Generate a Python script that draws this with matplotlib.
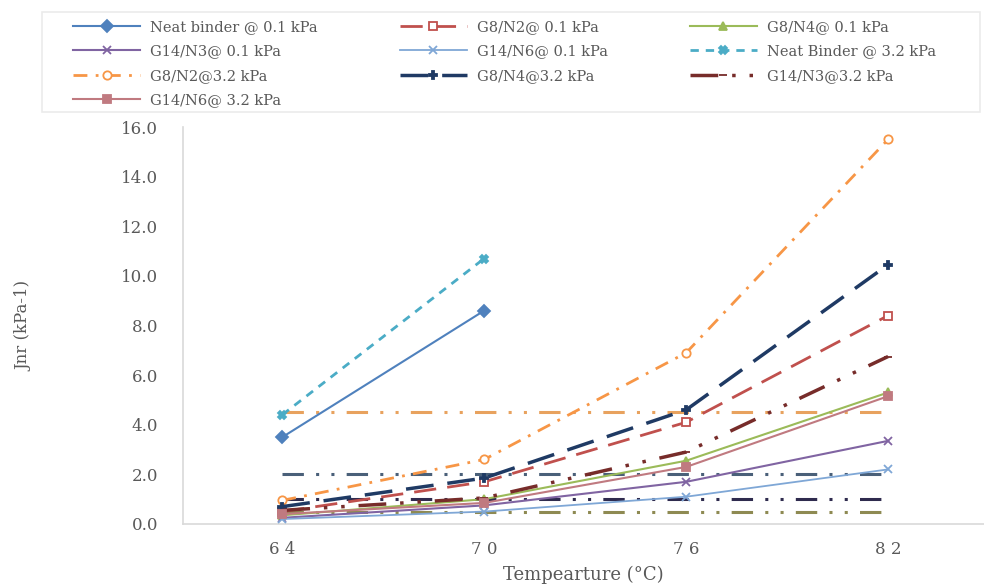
import matplotlib
matplotlib.use("Agg")
import matplotlib.pyplot as plt
from matplotlib.patches import Rectangle
import numpy as np

plt.rcParams['font.family'] = ['DejaVu Serif']

temps = [64, 70, 76, 82]
temp_labels = ['6 4', '7 0', '7 6', '8 2']

# Jnr values (kPa-1) per binder / stress level
neat_01 = [3.5, 8.6]
g8n2_01 = [0.5, 1.7, 4.1, 8.4]
g8n4_01 = [0.35, 1.0, 2.55, 5.3]
g14n3_01 = [0.25, 0.75, 1.7, 3.35]
g14n6_01 = [0.2, 0.5, 1.1, 2.2]
neat_32 = [4.4, 10.7]
g8n2_32 = [0.95, 2.6, 6.9, 15.5]
g8n4_32 = [0.7, 1.85, 4.6, 10.45]
g14n3_32 = [0.55, 1.05, 2.9, 6.75]
g14n6_32 = [0.4, 0.85, 2.3, 5.15]

# traffic-level limits drawn across the temperature range
limits = [4.5, 2.0, 1.0, 0.5]
limit_colors = ['#E8A25E', '#4A6079', '#2F2B4E', '#8E8A52']

W, H = 984, 586
fig = plt.figure(figsize=(W / 100, H / 100), dpi=100)
ax = fig.add_axes([183/W, 1 - 524/H, 1 - 183/W, (524 - 127)/H])

series = [
    (temps[:2], neat_01, 'Neat binder @ 0.1 kPa', '#4F81BD', '-', 'D', 1.5, 'full'),
    (temps, g8n2_01, 'G8/N2@ 0.1 kPa', '#C0504D', (0, (8, 4)), 's', 2.0, 'none'),
    (temps, g8n4_01, 'G8/N4@ 0.1 kPa', '#9BBB59', '-', '^', 1.5, 'full'),
    (temps, g14n3_01, 'G14/N3@ 0.1 kPa', '#8064A2', '-', 'x', 1.5, 'full'),
    (temps, g14n6_01, 'G14/N6@ 0.1 kPa', '#7FA7D6', '-', 'x', 1.3, 'full'),
    (temps[:2], neat_32, 'Neat Binder @ 3.2 kPa', '#4BACC6', (0, (3, 2.5)), 'X', 2.0, 'full'),
    (temps, g8n2_32, 'G8/N2@3.2 kPa', '#F79646', (0, (5, 3, 1, 3)), 'o', 2.0, 'none'),
    (temps, g8n4_32, 'G8/N4@3.2 kPa', '#1F3A64', (0, (8, 4)), 'P', 2.5, 'full'),
    (temps, g14n3_32, 'G14/N3@3.2 kPa', '#772C2A', (0, (8, 4, 1, 4, 1, 4)), '_', 2.5, 'full'),
    (temps, g14n6_32, 'G14/N6@ 3.2 kPa', '#C07A80', '-', 's', 1.5, 'full'),
]

for y, c in zip(limits, limit_colors):
    ax.plot([temps[0], temps[-1]], [y, y], color=c, lw=2.2,
            linestyle=(0, (7, 4, 1, 4, 1, 4)), zorder=1)

handles = []
for x, y, label, c, ls, mk, lw, fill in series:
    face = 'white' if fill == 'none' else c
    h, = ax.plot(x, y, color=c, linestyle=ls, lw=lw, marker=mk, markersize=6,
                 markerfacecolor=face, markeredgecolor=c, markeredgewidth=1.3,
                 label=label, zorder=3)
    handles.append(h)

ax.set_xlim(61.05, 84.85)
ax.set_ylim(0, 16)
ax.set_xticks(temps)
ax.set_xticklabels(temp_labels)
ax.set_yticks(np.arange(0, 16.1, 2))
ax.set_yticklabels([f'{v:.1f}' for v in np.arange(0, 16.1, 2)])
ax.tick_params(length=0, colors='#595959', labelsize=12, pad=18)
ax.tick_params(axis='x', pad=12)
for s in ['top', 'right']:
    ax.spines[s].set_visible(False)
for s in ['left', 'bottom']:
    ax.spines[s].set_color('#D9D9D9')
    ax.spines[s].set_linewidth(1.2)

ax.set_xlabel('Tempearture (°C)', fontsize=13, color='#595959', labelpad=6)
ax.set_ylabel('Jnr (kPa-1)', fontsize=12, color='#595959', labelpad=64)

# legend box spans the width above the plot
fig.patches.append(Rectangle((42/W, 1 - 112/H), (980 - 42)/W, 100/H,
                             transform=fig.transFigure, facecolor='white',
                             edgecolor='#EBEBEB', lw=1.2, zorder=0))

# row-wise legend: matplotlib fills columns, so regroup the entries
order = [0, 3, 6, 9, 1, 4, 7, 2, 5, 8]
leg = fig.legend([handles[i] for i in order], [series[i][2] for i in order],
                 loc='upper left', ncol=3,
                 bbox_to_anchor=(73/W, 1 - 20/H),
                 fontsize=10.5, handlelength=4.6, handletextpad=0.7,
                 labelspacing=0.72, columnspacing=5.6,
                 frameon=False, borderpad=0, borderaxespad=0)
for t in leg.get_texts():
    t.set_color('#595959')

fig.savefig('out.png', dpi=100)
